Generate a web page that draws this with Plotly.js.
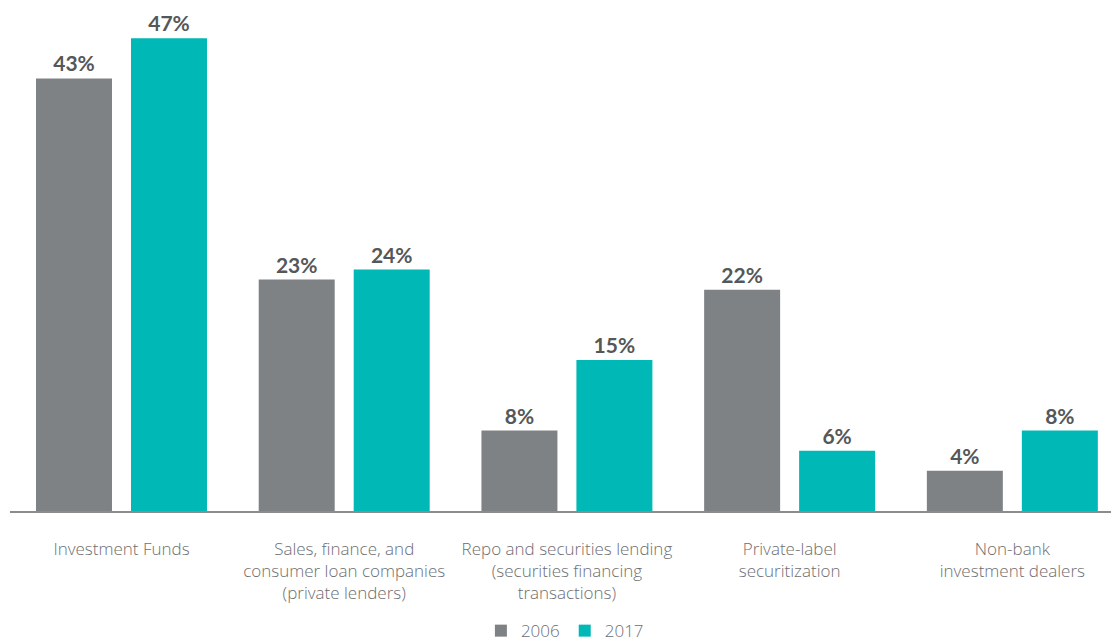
<!DOCTYPE html>
<html>
<head>
<meta charset="utf-8">
<script src="https://cdn.plot.ly/plotly-3.0.1.min.js"></script>
<style>
html,body{margin:0;padding:0;background:#fff;}
#chart{width:1111px;height:642px;}
</style>
</head>
<body>
<div id="chart"></div>
<script>
var categories = [
  "Investment Funds",
  "Sales, finance, and<br>consumer loan companies<br>(private lenders)",
  "Repo and securities lending<br>(securities financing<br>transactions)",
  "Private-label<br>securitization",
  "Non-bank<br>investment dealers"
];
var series2006 = [43, 23, 8, 22, 4];
var series2017 = [47, 24, 15, 6, 8];
var seriesNames = ["2006", "2017"];

var labelFont = {family: "Lato, 'Open Sans', sans-serif", size: 21, color: "#555759", weight: 700};

var traces = [
  {
    type: "bar", name: seriesNames[0], x: categories, y: series2006,
    marker: {color: "#7f8285"},
    text: series2006.map(function(v){return v + "%";}),
    textposition: "outside", textfont: labelFont, cliponaxis: false,
    hoverinfo: "skip"
  },
  {
    type: "bar", name: seriesNames[1], x: categories, y: series2017,
    marker: {color: "#00b8b5"},
    text: series2017.map(function(v){return v + "%";}),
    textposition: "outside", textfont: labelFont, cliponaxis: false,
    hoverinfo: "skip"
  }
];

var layout = {
  width: 1111, height: 642,
  margin: {l: 10, r: 0, t: 8, b: 131, autoexpand: false},
  paper_bgcolor: "#fff", plot_bgcolor: "#fff",
  font: {family: "'Open Sans', Lato, sans-serif", size: 17, color: "#6d6e71", weight: 300},
  barmode: "group",
  bargap: 0.147,
  bargroupgap: 0.2,
  showlegend: true,
  legend: {
    orientation: "h", x: 0.504, xanchor: "center",
    yref: "container", y: 0.017, yanchor: "middle",
    font: {size: 17, color: "#6d6e71"}, itemwidth: 30, traceorder: "normal"
  },
  xaxis: {
    type: "category",
    range: [-0.5006, 4.443],
    automargin: false,
    showline: true, linecolor: "#8a8c8e", linewidth: 1.5,
    showgrid: false, zeroline: false, ticks: "",
    ticklabelstandoff: 22,
    tickfont: {size: 17, color: "#6d6e71"},
    fixedrange: true
  },
  yaxis: {
    range: [0, 50],
    visible: false, showgrid: false, zeroline: false,
    automargin: false,
    fixedrange: true
  }
};

Plotly.newPlot("chart", traces, layout, {displayModeBar: false, staticPlot: true});
</script>
</body>
</html>
